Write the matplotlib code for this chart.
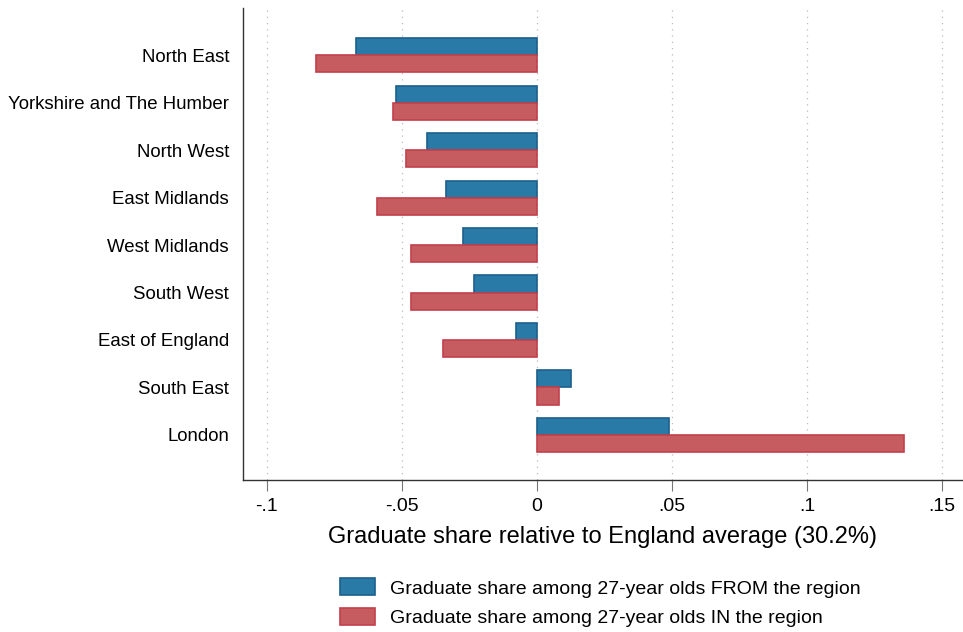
import numpy as np
import matplotlib
matplotlib.use("Agg")
from matplotlib import pyplot as plt
from matplotlib.patches import Patch

plt.rcParams['font.family'] = ['Liberation Sans', 'DejaVu Sans']

# data
regions = ['North East', 'Yorkshire and The Humber', 'North West', 'East Midlands',
           'West Midlands', 'South West', 'East of England', 'South East', 'London']
share_from = [-0.067, -0.0522, -0.0407, -0.0337, -0.0274, -0.0233, -0.0078, 0.0126, 0.0489]
share_in = [-0.0819, -0.0533, -0.0485, -0.0593, -0.0467, -0.0467, -0.0348, 0.0081, 0.1359]
xticks = [-0.1, -0.05, 0, 0.05, 0.1, 0.15]
xtick_labels = ['-.1', '-.05', '0', '.05', '.1', '.15']

blue_fill, blue_edge = '#2a7aa7', '#1d5f8c'
red_fill, red_edge = '#c65c60', '#c2404b'

fig = plt.figure(figsize=(9.63, 6.32), dpi=100)
ax = fig.add_axes([0.2523, 0.2405, 0.7477, 0.7465])

y = np.arange(len(regions))
h = 0.36
ax.barh(y - h / 2, share_from, height=h, color=blue_fill, edgecolor=blue_edge, linewidth=1.2, zorder=3)
ax.barh(y + h / 2, share_in, height=h, color=red_fill, edgecolor=red_edge, linewidth=1.2, zorder=3)

ax.set_ylim(8.95, -0.99)
ax.set_xlim(-0.1089, 0.1578)

ax.set_yticks(y)
ax.set_yticklabels(regions, fontsize=13.4)
ax.tick_params(axis='y', length=0, pad=10)

ax.set_xticks(xticks)
ax.set_xticklabels(xtick_labels, fontsize=14)
ax.tick_params(axis='x', direction='out', length=8, width=0.8, color='#777777', pad=5)

ax.xaxis.grid(True, linestyle=(0, (1, 4)), color='#bbbbbb', linewidth=0.9, zorder=0)

for s in ['top', 'right']:
    ax.spines[s].set_visible(False)
for s in ['left', 'bottom']:
    ax.spines[s].set_color('#333333')
    ax.spines[s].set_linewidth(1.0)

ax.set_xlabel('Graduate share relative to England average (30.2%)', fontsize=17, labelpad=8)

handles = [Patch(facecolor=blue_fill, edgecolor=blue_edge, linewidth=1.2),
           Patch(facecolor=red_fill, edgecolor=red_edge, linewidth=1.2)]
fig.legend(handles, ['Graduate share among 27-year olds FROM the region',
                     'Graduate share among 27-year olds IN the region'],
           loc='upper left', bbox_to_anchor=(0.345, 0.097), frameon=False, fontsize=14,
           handlelength=1.8, handleheight=0.95, handletextpad=0.75, labelspacing=0.55,
           borderaxespad=0)

fig.savefig('out.png', dpi=100)
